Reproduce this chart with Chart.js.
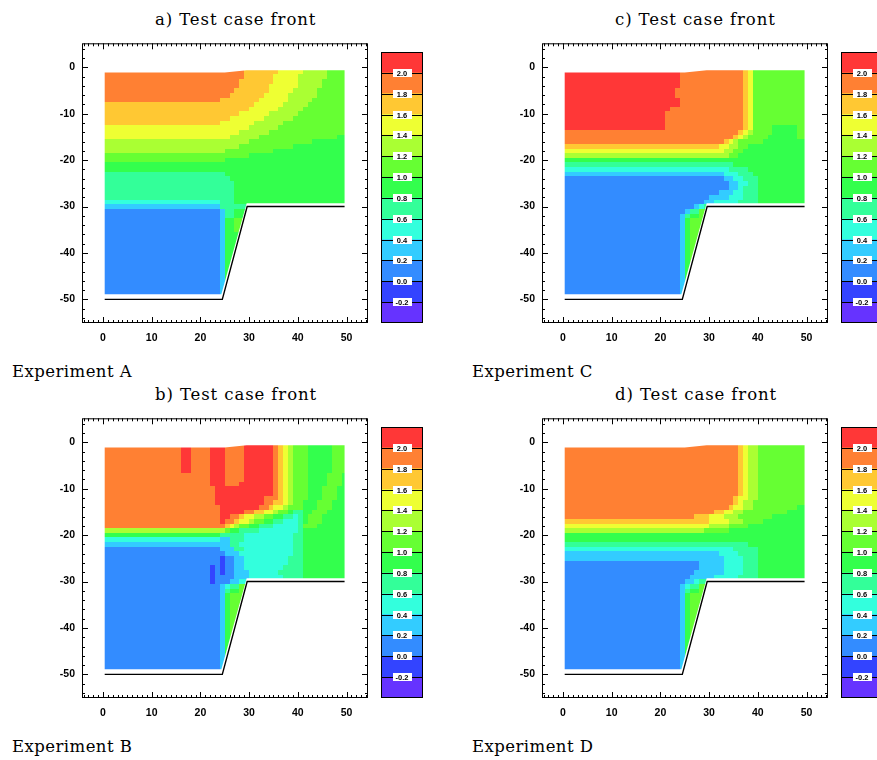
<!DOCTYPE html>
<html>
<head>
<meta charset="utf-8">
<script src="https://cdn.jsdelivr.net/npm/chart.js@4/dist/chart.umd.min.js"></script>
<style>
body{margin:0;background:#fff;width:877px;height:760px;overflow:hidden;position:relative}
canvas{position:absolute}
.t{position:absolute;font-family:'DejaVu Serif',serif;font-size:16.5px;line-height:16.5px;color:#000;white-space:nowrap}
.ttl{letter-spacing:0.9px}
.exp{letter-spacing:0.45px}
</style>
</head>
<body>
<script>
// contour levels: A (< -0.2) ... M (> 2.0)
const levelCodes='ABCDEFGHIJKLM';
const levelColors=['#6633ff','#3344ff','#338cff','#33ccff','#33ffdd','#33ff99','#33ff4d','#66ff33','#aaff33','#eeff33','#ffc833','#ff8033','#ff3737'];
const levelLow =[-0.4,-0.2,0.0,0.2,0.4,0.6,0.8,1.0,1.2,1.4,1.6,1.8,2.0];
const levelHigh=[-0.2,0.0,0.2,0.4,0.6,0.8,1.0,1.2,1.4,1.6,1.8,2.0,2.2];
const cbValues=[-0.2,0.0,0.2,0.4,0.6,0.8,1.0,1.2,1.4,1.6,1.8,2.0];
const cbLabels=['-0.2','0.0','0.2','0.4','0.6','0.8','1.0','1.2','1.4','1.6','1.8','2.0'];

const xTicks=[0,10,20,30,40,50];
const yTicks=[0,-10,-20,-30,-40,-50];

// topography and wet region outline
const bedX=[0.35,24.5,29.6,49.6];
const bedY=[-50,-50,-30,-30];
const wetX=[0.35,25,29.5,49.6,49.6,29.5,24.3,0.35];
const wetY=[-1.1,-1.1,-0.6,-0.6,-29.3,-29.3,-48.9,-48.9];

// rows y=-1..-49, run-length: level letter + cell count (1 unit cells, x 0..50)
const fieldA=[
'L29K7J5I5H4','L29K6J5I6H4','L28K7J5I5H5','L28K6J6I5H5','L27K7J5I5H6',
'L26K7J5I6H6','L24K8J6I5H7','K31J6I5H8','K30J6I5H9','K28J6I6H10',
'K26J7I6H11','K24J7I6H13','J30I6H14','J28I6H16','J26I6H16G2',
'I30H13G7','I28H11G11','I25H10G15','H30G20','H25G25',
'G50','G50','F25G25','F26G24','F27G23',
'F27G23','F27G23','F27G23','E24F3G23','D24F6.20',
'C24D1F2G3.20','C24D1F2G3.20','C24D1G2H3.20','C24D1G2H3.20','C24D1G2H3.20',
'C24D1G5.20','C24D1G5.20','C24D1G5.20','C24D1G5.20','C24D1G5.20',
'C24D1G5.20','C24D1G5.20','C24D1G5.20','C24D1G5.20','C24D1G5.20',
'C24D1G5.20','C24D1G5.20','C24D1G5.20','C24D1G5.20'];

const fieldB=[
'L16M2L4M3L4M6L1K1J1I1H3G5H3','L16M2L4M3L4M6L1K1J1I1H3G5H3','L16M2L4M3L4M6L1K1J1I1H3G5H3',
'L16M2L4M3L4M6L1K1J1I1H3G5H3','L16M2L4M3L4M6L1K1J1I1H3G5H3','L16M2L4M3L4M6L1K1J1I1H3G5H3',
'L22M3L4M6L1K1J1I1H3G4H3G1','L22M3L4M6L1K1J1I1H3G4H3G1','L22M3L3M7L1K1J1I1H3G4H3G1',
'L23M12L1K1J1I1H3G3H3G2','L23M12L1K1J1I1H3G3H3G2','L23M10L3K1J1I1H3G3H3G2',
'L23M10L2K2J1I1H2G3H3G3','L24M8L2K1J2I1H3G3H3G3','L24M5L2K2J2I1H2G1F2G2H3G4',
'L24M2L2K1J2I2H2G2F2E1F1G1H3G5','L24M1L2K1J2I1H2G2F2E3F1G1H3G5','L25K1J1I1H2G2F3E5F1H3G6',
'I25H1G2F4E8F1G9','G24F5E10F2G9','E24D2F3E10F2G9',
'D26F2E11F2G9','C24D3F2E10F2G9','C25D3E11F2G9',
'C24B1C2D2E9F3G9','C24B1C2D2E9F3G9','C22B1C1B1C2D2E8F4G9',
'C22B1C1B1C2D3E6F5G9','C22B1C4D3E7F4G9','C22B1C3D2E2.20',
'C24D1E1F2H2.20','C24D1F1G2H2.20','C24D1G1H4.20','C24D1G1H4.20','C24D1G1H4.20',
'C24D1G1H4.20','C24D1G1H4.20','C24D1G1H4.20','C24D1G1H4.20','C24D1G1H4.20',
'C24D1G1H4.20','C24D1G1H4.20','C24D1G1H4.20','C24D1G1H4.20','C24D1G1H4.20',
'C24D1G1H4.20','C24D1G1H4.20','C24D1G1H4.20','C24D1G1H4.20'];

const fieldC=[
'M24L13K1J1H11','M24L13K1J1H11','M24L13K1J1H11','M24L13K1J1H11','M23L14K1J1H11',
'M23L14K1J1H11','M24L13K1J1H11','M24L13K1J1H11','M22L15K1J1H11','M21L16K1J1H11',
'M21L16K1J1H11','M21L16K1J1H11','M21L16K1J1H4G5H2','L36K1J1I1H4G5H2','L35K1J1I1H4G6H2',
'L33K1J1I1H5G9','K32J2I2H2G12','J33I2H2G13','I34H2G14','G50',
'F35G15','E34F4G12','D33E3F3G11','C33D2E2F3G10','C34D2E2F2G10',
'C34D2E1F3G10','C32D3E2F3G10','C30D4E3F3G10','C29D2E5F4G10','C27D1E1F1.20',
'C25D1F2H2.20','C24D1F1G2H2.20','C24D1G1H4.20','C24D1G1H4.20','C24D1G1H4.20',
'C24D1G1H4.20','C24D1G1H4.20','C24D1G1H4.20','C24D1G1H4.20','C24D1G1H4.20',
'C24D1G1H4.20','C24D1G1H4.20','C24D1G1H4.20','C24D1G1H4.20','C24D1G1H4.20',
'C24D1G1H4.20','C24D1G1H4.20','C24D1G1H4.20','C24D1G1H4.20'];

const fieldD=[
'L36K1J1I2H10','L36K1J1I2H10','L36K1J1I2H10','L36K1J1I2H10','L36K1J1I2H10',
'L36K1J1I2H10','L36K1J1I2H10','L36K1J1I2H10','L36K1J1I2H10','L36K1J1I2H10',
'L36K1J1I2H10','L35K1J2I2H10','L35K1J1I2H11','L34K1J2I2H9G2','L31K2J2I2H9G4',
'L27K3J3I3H7G7','K30J4I3H4G9','J30I4H4G12','I29H5G16','G50',
'G50','F38G12','E35F5G10','D32E4F4G10','D33E4F3G10',
'C28D5E4F3G10','C28D5E4F3G10','C27D6E4F3G10','C26D5E5F4G10','C25D2E1F2.20',
'C24D1E1F2H2.20','C24D1F1G2H2.20','C24D1G1H4.20','C24D1G1H4.20','C24D1G1H4.20',
'C24D1G1H4.20','C24D1G1H4.20','C24D1G1H4.20','C24D1G1H4.20','C24D1G1H4.20',
'C24D1G1H4.20','C24D1G1H4.20','C24D1G1H4.20','C24D1G1H4.20','C24D1G1H4.20',
'C24D1G1H4.20','C24D1G1H4.20','C24D1G1H4.20','C24D1G1H4.20'];

const panels=[
  {grid:fieldA,title:'a) Test case front',exp:'Experiment A',left:0,top:30},
  {grid:fieldC,title:'c) Test case front',exp:'Experiment C',left:460,top:30},
  {grid:fieldB,title:'b) Test case front',exp:'Experiment B',left:0,top:405},
  {grid:fieldD,title:'d) Test case front',exp:'Experiment D',left:460,top:405}
];

function decode(rows){
  return rows.map(r=>{const out=[];r.replace(/([A-M.])(\d+)/g,(m,c,n)=>{out.push([c,+n]);return m;});return out;});
}

const fieldPlugin={
  id:'field',
  beforeDatasetsDraw(ch,args,opts){
    const {ctx,scales:{x,y}}=ch;
    const runs=decode(opts.grid);
    ctx.save();
    ctx.beginPath();
    wetX.forEach((v,i)=>{const px=x.getPixelForValue(v),py=y.getPixelForValue(wetY[i]);i?ctx.lineTo(px,py):ctx.moveTo(px,py);});
    ctx.closePath();
    ctx.clip();
    runs.forEach((row,r)=>{
      const y0=Math.round(y.getPixelForValue(-(r+0.5))),y1=Math.round(y.getPixelForValue(-(r+1.5)));
      let c=0;
      row.forEach(([code,n])=>{
        if(code!=='.'){
          const x0=Math.round(x.getPixelForValue(c)),x1=Math.round(x.getPixelForValue(c+n));
          ctx.fillStyle=levelColors[levelCodes.indexOf(code)];
          ctx.fillRect(x0,y0,x1-x0,y1-y0);
        }
        c+=n;
      });
    });
    ctx.restore();
  }
};

const framePlugin={
  id:'frame',
  afterDraw(ch){
    const {ctx,chartArea:a,scales:{x,y}}=ch;
    ctx.save();
    ctx.strokeStyle='#000';ctx.lineWidth=1;
    ctx.strokeRect(a.left+0.5,a.top+0.5,a.right-a.left-1,a.bottom-a.top-1);
    ctx.beginPath();
    for(let v=Math.ceil(x.min);v<=x.max;v++){
      const p=Math.round(x.getPixelForValue(v))+0.5,L=xTicks.includes(v)?6:3;
      ctx.moveTo(p,a.bottom);ctx.lineTo(p,a.bottom-L);
      ctx.moveTo(p,a.top);ctx.lineTo(p,a.top+L);
    }
    for(let v=Math.ceil(y.min/2)*2;v<=y.max;v+=2){
      const p=Math.round(y.getPixelForValue(v))+0.5,L=yTicks.includes(v)?6:3;
      ctx.moveTo(a.left,p);ctx.lineTo(a.left+L,p);
      ctx.moveTo(a.right,p);ctx.lineTo(a.right-L,p);
    }
    ctx.stroke();
    ctx.restore();
  }
};

const cbPlugin={
  id:'cbar',
  afterDraw(ch){
    const {ctx,chartArea:a,scales:{y}}=ch;
    ctx.save();
    ctx.strokeStyle='#000';ctx.lineWidth=1;
    const cx=(a.left+a.right)/2;
    ctx.font='bold 7.5px "Liberation Sans"';
    ctx.textAlign='center';ctx.textBaseline='middle';
    cbValues.forEach((v,i)=>{
      const p=Math.round(y.getPixelForValue(v))+0.5;
      ctx.beginPath();ctx.moveTo(a.left,p);ctx.lineTo(a.right,p);ctx.stroke();
      ctx.fillStyle='#fff';ctx.fillRect(Math.round(cx-9.5),p-4.5,19,8);
      ctx.fillStyle='#000';ctx.fillText(cbLabels[i],cx,p);
    });
    ctx.strokeRect(a.left+0.5,a.top+0.5,a.right-a.left-1,a.bottom-a.top-1);
    ctx.restore();
  }
};

const tickFont={family:'"Liberation Sans", Arial, sans-serif',size:10.5,weight:'bold'};

panels.forEach(p=>{
  const cv=document.createElement('canvas');
  cv.width=380;cv.height=320;
  cv.style.left=p.left+'px';cv.style.top=p.top+'px';
  document.body.appendChild(cv);
  new Chart(cv,{
    type:'scatter',
    data:{datasets:[{
      data:bedX.map((v,i)=>({x:v,y:bedY[i]})),
      showLine:true,borderColor:'#000',borderWidth:1.4,pointRadius:0,fill:false
    }]},
    options:{
      responsive:false,animation:false,events:[],devicePixelRatio:1,
      layout:{padding:{left:0,top:6,right:12,bottom:0}},
      plugins:{legend:{display:false},tooltip:{enabled:false},field:{grid:p.grid}},
      scales:{
        x:{type:'linear',min:-4.31,max:54.41,
          afterBuildTicks:s=>{s.ticks=xTicks.map(v=>({value:v}));},
          afterFit:s=>{s.height=27;},
          grid:{display:false,drawTicks:false},border:{display:false},
          ticks:{color:'#000',font:tickFont,padding:9,autoSkip:false,maxRotation:0}},
        y:{type:'linear',min:-55.1,max:5.19,
          afterBuildTicks:s=>{s.ticks=yTicks.map(v=>({value:v}));},
          afterFit:s=>{s.width=82;},
          grid:{display:false,drawTicks:false},border:{display:false},
          ticks:{color:'#000',font:tickFont,padding:7,autoSkip:false}}
      }
    },
    plugins:[fieldPlugin,framePlugin]
  });

  const cb=document.createElement('canvas');
  cb.width=42;cb.height=271;
  cb.style.left=(p.left+381)+'px';cb.style.top=(p.top+22)+'px';
  document.body.appendChild(cb);
  new Chart(cb,{
    type:'bar',
    data:{labels:[''],datasets:levelColors.map((c,i)=>({
      data:[[levelLow[i],levelHigh[i]]],backgroundColor:c,borderWidth:0,
      barPercentage:1,categoryPercentage:1,grouped:false}))},
    options:{
      responsive:false,animation:false,events:[],devicePixelRatio:1,
      layout:{padding:0},
      plugins:{legend:{display:false},tooltip:{enabled:false}},
      scales:{x:{display:false},y:{display:false,min:-0.4,max:2.2}}
    },
    plugins:[cbPlugin]
  });

  const t=document.createElement('div');
  t.className='t ttl';t.textContent=p.title;
  t.style.left=(p.left+155)+'px';t.style.top=(p.top-18)+'px';
  document.body.appendChild(t);
  const e=document.createElement('div');
  e.className='t exp';e.textContent=p.exp;
  e.style.left=(p.left+12)+'px';e.style.top=(p.top+334)+'px';
  document.body.appendChild(e);
});
</script>
</body>
</html>
